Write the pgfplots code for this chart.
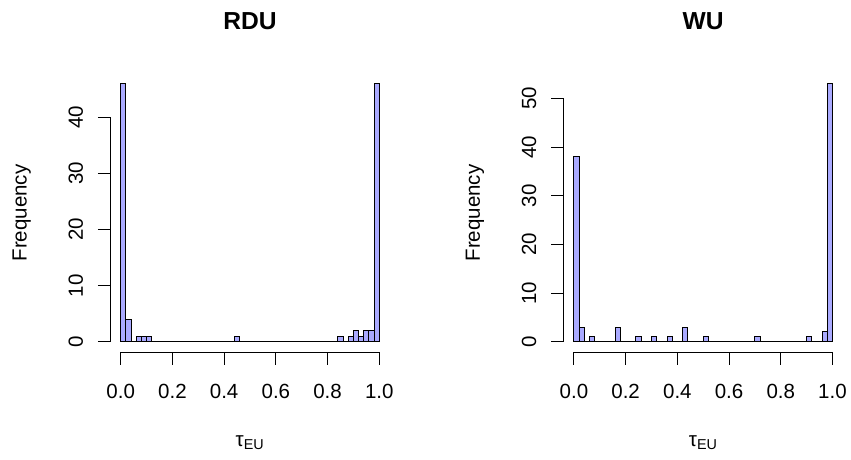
\documentclass[border=0pt]{standalone}
\usepackage{fontspec}
\setmainfont{Liberation Sans}
\usepackage{pgfplots}
\pgfplotsset{compat=1.18}
\definecolor{histfill}{RGB}{170,170,255}

\pgfplotsset{
  rhist/.style={
    scale only axis, width=279.2pt, height=278.5pt,
    anchor=south west, clip=false,
    xmin=-0.04, xmax=1.04,
    axis line style={draw=none},
    xtick pos=bottom, ytick pos=left,
    tick align=outside, major tick length=12.6pt,
    tick style={black, line width=1pt},
    xtick={0,0.2,0.4,0.6,0.8,1},
    xticklabels={0.0,0.2,0.4,0.6,0.8,1.0},
    ticklabel style={font=\fontsize{20.5}{24}\selectfont},
    /pgf/number format/assume math mode=true,
    xticklabel style={anchor=center, yshift=-27pt},
    yticklabel style={rotate=90, anchor=center, yshift=22pt},
  }
}

\begin{document}
\begin{tikzpicture}
\useasboundingbox (0,0) rectangle (851pt,459pt);

% left: RDU
\begin{axis}[rhist, at={(110.4pt,107pt)}, ymin=-1.84, ymax=47.84, ytick={0,10,20,30,40}]
\addplot[ybar interval, fill=histfill, draw=black, line width=1pt] coordinates {
(0.00,46)(0.02,4)(0.04,0)(0.06,1)(0.08,1)(0.10,1)(0.12,0)(0.14,0)(0.16,0)(0.18,0)
(0.20,0)(0.22,0)(0.24,0)(0.26,0)(0.28,0)(0.30,0)(0.32,0)(0.34,0)(0.36,0)(0.38,0)
(0.40,0)(0.42,0)(0.44,1)(0.46,0)(0.48,0)(0.50,0)(0.52,0)(0.54,0)(0.56,0)(0.58,0)
(0.60,0)(0.62,0)(0.64,0)(0.66,0)(0.68,0)(0.70,0)(0.72,0)(0.74,0)(0.76,0)(0.78,0)
(0.80,0)(0.82,0)(0.84,1)(0.86,0)(0.88,1)(0.90,2)(0.92,1)(0.94,2)(0.96,2)(0.98,46)
(1.00,46)};
\draw[line width=1pt] (axis cs:0,-1.84) -- (axis cs:1,-1.84);
\draw[line width=1pt] (axis cs:-0.04,0) -- (axis cs:-0.04,40);
\end{axis}

% right: WU
\begin{axis}[rhist, at={(563.6pt,107pt)}, ymin=-2.12, ymax=55.12, ytick={0,10,20,30,40,50}]
\addplot[ybar interval, fill=histfill, draw=black, line width=1pt] coordinates {
(0.00,38)(0.02,3)(0.04,0)(0.06,1)(0.08,0)(0.10,0)(0.12,0)(0.14,0)(0.16,3)(0.18,0)
(0.20,0)(0.22,0)(0.24,1)(0.26,0)(0.28,0)(0.30,1)(0.32,0)(0.34,0)(0.36,1)(0.38,0)
(0.40,0)(0.42,3)(0.44,0)(0.46,0)(0.48,0)(0.50,1)(0.52,0)(0.54,0)(0.56,0)(0.58,0)
(0.60,0)(0.62,0)(0.64,0)(0.66,0)(0.68,0)(0.70,1)(0.72,0)(0.74,0)(0.76,0)(0.78,0)
(0.80,0)(0.82,0)(0.84,0)(0.86,0)(0.88,0)(0.90,1)(0.92,0)(0.94,0)(0.96,2)(0.98,53)
(1.00,53)};
\draw[line width=1pt] (axis cs:0,-2.12) -- (axis cs:1,-2.12);
\draw[line width=1pt] (axis cs:-0.04,0) -- (axis cs:-0.04,50);
\end{axis}

% titles and labels
\node[font=\fontsize{24.6}{28}\selectfont\bfseries] at (250pt,438.3pt) {RDU};
\node[font=\fontsize{24.6}{28}\selectfont\bfseries] at (703.2pt,438.3pt) {WU};
\node[font=\fontsize{20.5}{24}\selectfont, rotate=90] at (21.7pt,246pt) {Frequency};
\node[font=\fontsize{20.5}{24}\selectfont, rotate=90] at (475pt,246pt) {Frequency};
\node[font=\fontsize{20.5}{24}\selectfont] at (250pt,16pt) {τ\textsubscript{EU}};
\node[font=\fontsize{20.5}{24}\selectfont] at (703.2pt,16pt) {τ\textsubscript{EU}};
\end{tikzpicture}
\end{document}
